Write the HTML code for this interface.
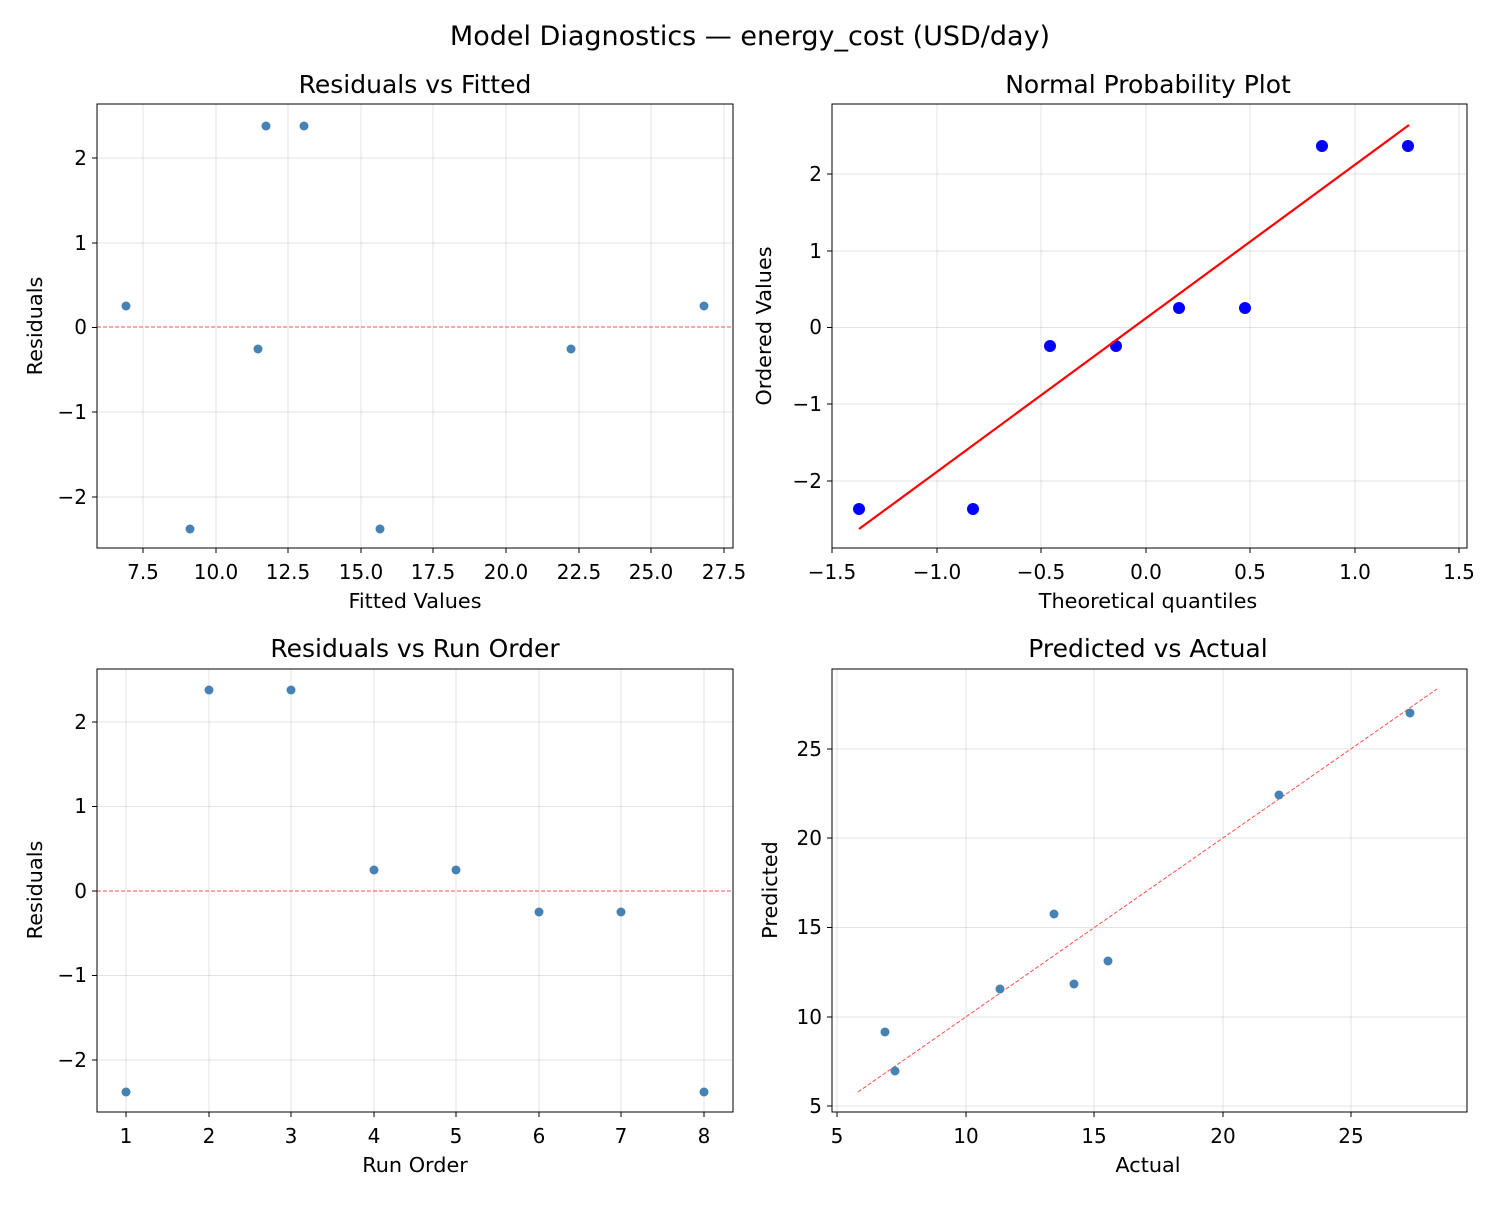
<!DOCTYPE html>
<html><head><meta charset="utf-8"><style>
body{margin:0;background:#fff}
svg text{font-family:"DejaVu Sans","Liberation Sans",sans-serif;fill:#000}
.t{font-size:20px}
.l{font-size:20.8px}
.g{stroke:#b0b0b0;stroke-opacity:.35;stroke-width:1}
.k{stroke:#000;stroke-width:1}
.z{stroke:#ff4d4d;stroke-width:1;stroke-dasharray:4,2}
</style></head><body>
<svg width="1500" height="1200" viewBox="0 0 1500 1200" xmlns="http://www.w3.org/2000/svg">
<rect width="1500" height="1200" fill="#fff"/>
<text x="750" y="45" font-size="27" text-anchor="middle">Model Diagnostics — energy_cost (USD/day)</text>

<!-- TL -->
<g>
<text x="415" y="93" font-size="25" text-anchor="middle">Residuals vs Fitted</text>
<g class="g">
<line x1="143" y1="104" x2="143" y2="548"/><line x1="216" y1="104" x2="216" y2="548"/><line x1="288" y1="104" x2="288" y2="548"/><line x1="361" y1="104" x2="361" y2="548"/><line x1="433" y1="104" x2="433" y2="548"/><line x1="506" y1="104" x2="506" y2="548"/><line x1="579" y1="104" x2="579" y2="548"/><line x1="651" y1="104" x2="651" y2="548"/><line x1="724" y1="104" x2="724" y2="548"/>
<line x1="97" y1="158" x2="733" y2="158"/><line x1="97" y1="243" x2="733" y2="243"/><line x1="97" y1="412" x2="733" y2="412"/><line x1="97" y1="497" x2="733" y2="497"/>
</g>
<line x1="97" y1="327" x2="733" y2="327" class="z"/>
<g fill="#4682b4">
<circle cx="126" cy="306" r="4.5"/><circle cx="190" cy="529" r="4.5"/><circle cx="266" cy="126" r="4.5"/><circle cx="304" cy="126" r="4.5"/><circle cx="258" cy="349" r="4.5"/><circle cx="380" cy="529" r="4.5"/><circle cx="571" cy="349" r="4.5"/><circle cx="704" cy="306" r="4.5"/>
</g>
<rect x="97" y="104" width="636" height="444" fill="none" class="k"/>
<g class="k"><line x1="143" y1="548" x2="143" y2="553"/><line x1="216" y1="548" x2="216" y2="553"/><line x1="288" y1="548" x2="288" y2="553"/><line x1="361" y1="548" x2="361" y2="553"/><line x1="433" y1="548" x2="433" y2="553"/><line x1="506" y1="548" x2="506" y2="553"/><line x1="579" y1="548" x2="579" y2="553"/><line x1="651" y1="548" x2="651" y2="553"/><line x1="724" y1="548" x2="724" y2="553"/>
<line x1="92" y1="158" x2="97" y2="158"/><line x1="92" y1="243" x2="97" y2="243"/><line x1="92" y1="327.5" x2="97" y2="327.5"/><line x1="92" y1="412" x2="97" y2="412"/><line x1="92" y1="497" x2="97" y2="497"/></g>
<g class="t" text-anchor="middle"><text x="143" y="579">7.5</text><text x="216" y="579">10.0</text><text x="288" y="579">12.5</text><text x="361" y="579">15.0</text><text x="433" y="579">17.5</text><text x="506" y="579">20.0</text><text x="579" y="579">22.5</text><text x="651" y="579">25.0</text><text x="724" y="579">27.5</text></g>
<g class="t" text-anchor="end"><text x="87" y="165">2</text><text x="87" y="250">1</text><text x="87" y="334">0</text><text x="87" y="419">−1</text><text x="87" y="504">−2</text></g>
<text x="415" y="608" class="l" text-anchor="middle">Fitted Values</text>
<text transform="translate(42,326) rotate(-90)" class="l" text-anchor="middle">Residuals</text>
</g>

<!-- TR -->
<g>
<text x="1148" y="93" font-size="25" text-anchor="middle">Normal Probability Plot</text>
<g class="g">
<line x1="832" y1="104" x2="832" y2="548"/><line x1="937" y1="104" x2="937" y2="548"/><line x1="1041" y1="104" x2="1041" y2="548"/><line x1="1146" y1="104" x2="1146" y2="548"/><line x1="1250" y1="104" x2="1250" y2="548"/><line x1="1355" y1="104" x2="1355" y2="548"/><line x1="1459" y1="104" x2="1459" y2="548"/>
<line x1="832" y1="174" x2="1467" y2="174"/><line x1="832" y1="251" x2="1467" y2="251"/><line x1="832" y1="327.5" x2="1467" y2="327.5"/><line x1="832" y1="404" x2="1467" y2="404"/><line x1="832" y1="481" x2="1467" y2="481"/>
</g>
<g fill="#00f">
<circle cx="859" cy="509" r="6"/><circle cx="973" cy="509" r="6"/><circle cx="1050" cy="346" r="6"/><circle cx="1116" cy="346" r="6"/><circle cx="1179" cy="308" r="6"/><circle cx="1245" cy="308" r="6"/><circle cx="1322" cy="146" r="6"/><circle cx="1408" cy="146" r="6"/>
</g>
<line x1="859" y1="529" x2="1409" y2="125" stroke="#f00" stroke-width="2.2"/>
<rect x="832" y="104" width="635" height="444" fill="none" class="k"/>
<g class="k"><line x1="832" y1="548" x2="832" y2="553"/><line x1="937" y1="548" x2="937" y2="553"/><line x1="1041" y1="548" x2="1041" y2="553"/><line x1="1146" y1="548" x2="1146" y2="553"/><line x1="1250" y1="548" x2="1250" y2="553"/><line x1="1355" y1="548" x2="1355" y2="553"/><line x1="1459" y1="548" x2="1459" y2="553"/>
<line x1="827" y1="174" x2="832" y2="174"/><line x1="827" y1="251" x2="832" y2="251"/><line x1="827" y1="327.5" x2="832" y2="327.5"/><line x1="827" y1="404" x2="832" y2="404"/><line x1="827" y1="481" x2="832" y2="481"/></g>
<g class="t" text-anchor="middle"><text x="832" y="579">−1.5</text><text x="937" y="579">−1.0</text><text x="1041" y="579">−0.5</text><text x="1146" y="579">0.0</text><text x="1250" y="579">0.5</text><text x="1355" y="579">1.0</text><text x="1459" y="579">1.5</text></g>
<g class="t" text-anchor="end"><text x="822" y="181">2</text><text x="822" y="258">1</text><text x="822" y="334">0</text><text x="822" y="411">−1</text><text x="822" y="488">−2</text></g>
<text x="1148" y="608" class="l" text-anchor="middle">Theoretical quantiles</text>
<text transform="translate(771,326) rotate(-90)" class="l" text-anchor="middle">Ordered Values</text>
</g>

<!-- BL -->
<g>
<text x="415" y="657" font-size="25" text-anchor="middle">Residuals vs Run Order</text>
<g class="g">
<line x1="126" y1="669" x2="126" y2="1112"/><line x1="209" y1="669" x2="209" y2="1112"/><line x1="291" y1="669" x2="291" y2="1112"/><line x1="374" y1="669" x2="374" y2="1112"/><line x1="456" y1="669" x2="456" y2="1112"/><line x1="539" y1="669" x2="539" y2="1112"/><line x1="621" y1="669" x2="621" y2="1112"/><line x1="704" y1="669" x2="704" y2="1112"/>
<line x1="97" y1="722" x2="733" y2="722"/><line x1="97" y1="806.5" x2="733" y2="806.5"/><line x1="97" y1="975.5" x2="733" y2="975.5"/><line x1="97" y1="1060" x2="733" y2="1060"/>
</g>
<line x1="97" y1="891" x2="733" y2="891" class="z"/>
<g fill="#4682b4">
<circle cx="126" cy="1092" r="4.5"/><circle cx="209" cy="690" r="4.5"/><circle cx="291" cy="690" r="4.5"/><circle cx="374" cy="870" r="4.5"/><circle cx="456" cy="870" r="4.5"/><circle cx="539" cy="912" r="4.5"/><circle cx="621" cy="912" r="4.5"/><circle cx="704" cy="1092" r="4.5"/>
</g>
<rect x="97" y="669" width="636" height="443" fill="none" class="k"/>
<g class="k"><line x1="126" y1="1112" x2="126" y2="1117"/><line x1="209" y1="1112" x2="209" y2="1117"/><line x1="291" y1="1112" x2="291" y2="1117"/><line x1="374" y1="1112" x2="374" y2="1117"/><line x1="456" y1="1112" x2="456" y2="1117"/><line x1="539" y1="1112" x2="539" y2="1117"/><line x1="621" y1="1112" x2="621" y2="1117"/><line x1="704" y1="1112" x2="704" y2="1117"/>
<line x1="92" y1="722" x2="97" y2="722"/><line x1="92" y1="806.5" x2="97" y2="806.5"/><line x1="92" y1="891" x2="97" y2="891"/><line x1="92" y1="975.5" x2="97" y2="975.5"/><line x1="92" y1="1060" x2="97" y2="1060"/></g>
<g class="t" text-anchor="middle"><text x="126" y="1143">1</text><text x="209" y="1143">2</text><text x="291" y="1143">3</text><text x="374" y="1143">4</text><text x="456" y="1143">5</text><text x="539" y="1143">6</text><text x="621" y="1143">7</text><text x="704" y="1143">8</text></g>
<g class="t" text-anchor="end"><text x="87" y="729">2</text><text x="87" y="813">1</text><text x="87" y="898">0</text><text x="87" y="982">−1</text><text x="87" y="1067">−2</text></g>
<text x="415" y="1172" class="l" text-anchor="middle">Run Order</text>
<text transform="translate(42,890) rotate(-90)" class="l" text-anchor="middle">Residuals</text>
</g>

<!-- BR -->
<g>
<text x="1148" y="657" font-size="25" text-anchor="middle">Predicted vs Actual</text>
<g class="g">
<line x1="837" y1="669" x2="837" y2="1112"/><line x1="966" y1="669" x2="966" y2="1112"/><line x1="1094" y1="669" x2="1094" y2="1112"/><line x1="1223" y1="669" x2="1223" y2="1112"/><line x1="1351" y1="669" x2="1351" y2="1112"/>
<line x1="832" y1="749" x2="1467" y2="749"/><line x1="832" y1="838" x2="1467" y2="838"/><line x1="832" y1="927.5" x2="1467" y2="927.5"/><line x1="832" y1="1017" x2="1467" y2="1017"/><line x1="832" y1="1106" x2="1467" y2="1106"/>
</g>
<line x1="858" y1="1092" x2="1437" y2="689" class="z"/>
<g fill="#4682b4">
<circle cx="885" cy="1032" r="4.5"/><circle cx="895" cy="1071" r="4.5"/><circle cx="1000" cy="989" r="4.5"/><circle cx="1054" cy="914" r="4.5"/><circle cx="1074" cy="984" r="4.5"/><circle cx="1108" cy="961" r="4.5"/><circle cx="1279" cy="795" r="4.5"/><circle cx="1410" cy="713" r="4.5"/>
</g>
<rect x="832" y="669" width="635" height="443" fill="none" class="k"/>
<g class="k"><line x1="837" y1="1112" x2="837" y2="1117"/><line x1="966" y1="1112" x2="966" y2="1117"/><line x1="1094" y1="1112" x2="1094" y2="1117"/><line x1="1223" y1="1112" x2="1223" y2="1117"/><line x1="1351" y1="1112" x2="1351" y2="1117"/>
<line x1="827" y1="749" x2="832" y2="749"/><line x1="827" y1="838" x2="832" y2="838"/><line x1="827" y1="927.5" x2="832" y2="927.5"/><line x1="827" y1="1017" x2="832" y2="1017"/><line x1="827" y1="1106" x2="832" y2="1106"/></g>
<g class="t" text-anchor="middle"><text x="837" y="1143">5</text><text x="966" y="1143">10</text><text x="1094" y="1143">15</text><text x="1223" y="1143">20</text><text x="1351" y="1143">25</text></g>
<g class="t" text-anchor="end"><text x="822" y="756">25</text><text x="822" y="845">20</text><text x="822" y="934">15</text><text x="822" y="1024">10</text><text x="822" y="1113">5</text></g>
<text x="1148" y="1172" class="l" text-anchor="middle">Actual</text>
<text transform="translate(777,890) rotate(-90)" class="l" text-anchor="middle">Predicted</text>
</g>
</svg>
</body></html>
